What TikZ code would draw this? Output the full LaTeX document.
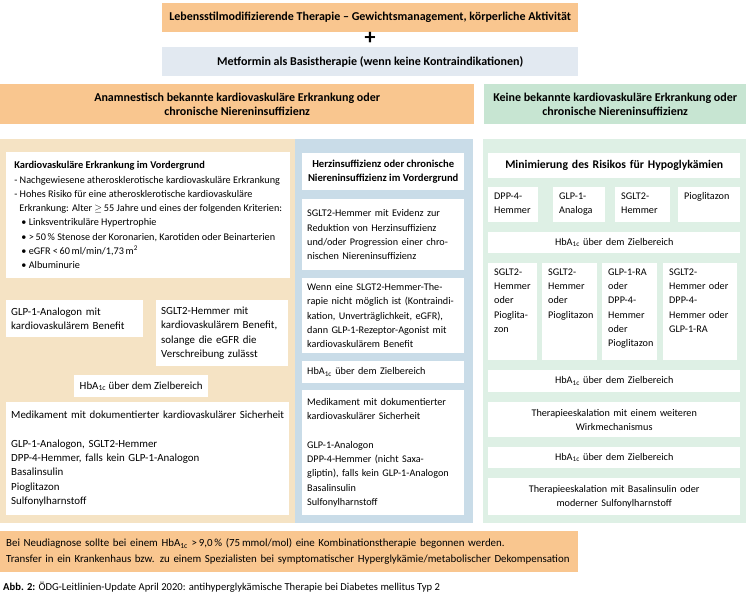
\documentclass[tikz,border=0pt]{standalone}
\usepackage{fontspec}
\setmainfont{Carlito}
\usepackage{tikz}
\usetikzlibrary{positioning}
\definecolor{orangebox}{HTML}{F9C68F}
\definecolor{metfblue}{HTML}{E2E9F1}
\definecolor{greenhead}{HTML}{C7E5D2}
\definecolor{beigepanel}{HTML}{F5E3C4}
\definecolor{bluepanel}{HTML}{C9DCE8}
\definecolor{greenpanel}{HTML}{DEF0E5}
\newcommand{\bodyfont}{\fontsize{10.2}{14.3}\selectfont}
\newcommand{\leftfont}{\fontsize{10.9}{14.3}\selectfont}
\newcommand{\headfont}{\fontsize{12}{14.3}\selectfont\bfseries}
\newcommand{\titlefont}{\fontsize{11.7}{14.3}\selectfont\bfseries}
\newcommand{\hba}{HbA\textsubscript{1c}}

\begin{document}
\begin{tikzpicture}[x=1pt, y=-1pt,
    panel/.style={anchor=north west, inner sep=0pt},
    headbox/.style={anchor=north west, inner sep=0pt, align=center, font=\headfont},
    box/.style={fill=white, anchor=north west, inner xsep=6pt, inner ysep=4pt, align=left, font=\bodyfont},
    lbox/.style={box, inner xsep=5pt, font=\leftfont},
    cbox/.style={box, align=center},
    cell/.style={box, text height=8pt, text depth=#1}]
    \useasboundingbox (0,0) rectangle (746,606);

    % top: lifestyle + metformin
    \node[headbox, fill=orangebox, minimum width=416pt, minimum height=29pt] (life) at (162,3) {Lebensstilmodifizierende Therapie -- Gewichtsmanagement, körperliche Aktivität};
    \node[font=\fontsize{22}{22}\selectfont\bfseries, inner sep=0pt] (plus) at (370,38) {+};
    \node[headbox, fill=metfblue, minimum width=416pt, minimum height=29pt] (metf) at (162,47) {Metformin als Basistherapie (wenn keine Kontraindikationen)};

    \node[headbox, fill=orangebox, minimum width=474pt, minimum height=40pt] (headcv) at (0,84) {Anamnestisch bekannte kardiovaskuläre Erkrankung oder\\chronische Niereninsuffizienz};
    \node[headbox, fill=greenhead, minimum width=262pt, minimum height=40pt] (headno) at (484,84) {Keine bekannte kardiovaskuläre Erkrankung oder\\chronische Niereninsuffizienz};

    % panels
    \node[panel, fill=beigepanel, minimum width=295pt, minimum height=384pt] (pancv) at (0,139) {};
    \node[panel, fill=bluepanel, minimum width=178pt, minimum height=384pt] (panhf) at (295,139) {};
    \node[panel, fill=greenpanel, minimum width=263pt, minimum height=384pt] (panno) at (483,139) {};

    % left column
    \node[box, inner xsep=0pt, minimum width=284pt, minimum height=126pt] (cvtext) at (6,152) {{\fontsize{10.4}{14.3}\selectfont\bfseries Kardiovaskuläre Erkrankung im Vordergrund}\\
      - Nachgewiesene atherosklerotische kardiovaskuläre Erkrankung\\
      - Hohes Risiko für eine atherosklerotische kardiovaskuläre\\
      \hspace*{0.5em}Erkrankung: Alter~$\geq$\,55 Jahre und eines der folgenden Kriterien:\\
      \hspace*{0.7em}\textbullet{} Linksventrikuläre Hypertrophie\\
      \hspace*{0.7em}\textbullet{} >\,50\,\% Stenose der Koronarien, Karotiden oder Beinarterien\\
      \hspace*{0.7em}\textbullet{} eGFR <\,60\,ml/min/1,73\,m\textsuperscript{2}\\
      \hspace*{0.7em}\textbullet{} Albuminurie};
    \node[lbox, text width=127pt, minimum height=37pt] (glpcv) at (6,300) {GLP-1-Analogon mit\\kardiovaskulärem Benefit};
    \node[lbox, text width=122pt, minimum height=66pt] (sgltcv) at (156,300) {SGLT2-Hemmer mit\\kardiovaskulärem Benefit,\\solange die eGFR die\\Verschreibung zulässt};
    \node[lbox, align=center, inner xsep=0pt, minimum width=134pt, minimum height=22pt] (hbacv) at (74,375) {\hba{} über dem Zielbereich};
    \node[lbox, text width=273pt, minimum height=113pt] (medcv) at (6,402) {Medikament mit dokumentierter kardiovaskulärer Sicherheit\\[14.3pt]
      GLP-1-Analogon, SGLT2-Hemmer\\DPP-4-Hemmer, falls kein GLP-1-Analogon\\Basalinsulin\\Pioglitazon\\Sulfonylharnstoff};

    % middle column
    \node[cbox, inner xsep=0pt, minimum width=162pt, minimum height=37pt, font=\fontsize{10.6}{14.3}\selectfont\bfseries] (hftitle) at (302,153) {Herzinsuffizienz oder chronische\\Niereninsuffizienz im Vordergrund};
    \node[box, inner xsep=5pt, text width=152pt, minimum height=71pt] (sglthf) at (302,199) {SGLT2-Hemmer mit Evidenz zur\\Reduktion von Herzinsuffizienz\\und/oder Progression einer chro-\\nischen Niereninsuffizienz};
    \node[box, inner xsep=5pt, text width=152pt, minimum height=75pt] (wennhf) at (302,278) {Wenn eine SLGT2-Hemmer-The-\\rapie nicht möglich ist (Kontraindi-\\kation, Unverträglichkeit, eGFR),\\dann GLP-1-Rezeptor-Agonist mit\\kardiovaskulärem Benefit};
    \node[box, inner xsep=5pt, text width=152pt, minimum height=22pt] (hbahf) at (302,361) {\hba{} über dem Zielbereich};
    \node[box, inner xsep=5pt, text width=152pt, minimum height=125pt] (medhf) at (302,390) {Medikament mit dokumentierter\\kardiovaskulärer Sicherheit\\[14.3pt]
      GLP-1-Analogon\\DPP-4-Hemmer (nicht Saxa-\\gliptin), falls kein GLP-1-Analogon\\Basalinsulin\\Sulfonylharnstoff};

    % right column
    \node[cbox, text width=240pt, minimum height=25pt, font=\titlefont] (hypo) at (488,153) {Minimierung des Risikos für Hypoglykämien};
    \node[cell=19pt, text width=38pt] (dppno) at (488,187) {DPP-4-\\Hemmer};
    \node[cell=19pt, text width=40pt] (glpno) at (553,187) {GLP-1-\\Analoga};
    \node[cell=19pt, text width=43pt] (sgltno) at (615,187) {SGLT2-\\Hemmer};
    \node[cell=19pt, text width=50pt] (piono) at (678,187) {Pioglitazon};
    \node[cbox, text width=240pt, minimum height=21pt] (hbanoa) at (488,232) {\hba{} über dem Zielbereich};
    \node[cell=81pt, text width=37pt] (combia) at (488,263) {SGLT2-\\Hemmer\\oder\\Pioglita-\\zon};
    \node[cell=81pt, text width=43pt] (combib) at (542,263) {SGLT2-\\Hemmer\\oder\\Pioglitazon};
    \node[cell=81pt, text width=43pt] (combic) at (602,263) {GLP-1-RA\\oder\\DPP-4-\\Hemmer\\oder\\Pioglitazon};
    \node[cell=81pt, text width=62pt] (combid) at (663,263) {SGLT2-\\Hemmer oder\\DPP-4-\\Hemmer oder\\GLP-1-RA};
    \node[cbox, text width=240pt, minimum height=22pt] (hbanob) at (488,370) {\hba{} über dem Zielbereich};
    \node[cbox, text width=240pt, minimum height=35pt] (eskno) at (488,402) {Therapieeskalation mit einem weiteren\\Wirkmechanismus};
    \node[cbox, text width=240pt, minimum height=21pt] (hbanoc) at (488,447) {\hba{} über dem Zielbereich};
    \node[cbox, text width=240pt, minimum height=37pt] (basno) at (488,478) {Therapieeskalation mit Basalinsulin oder\\moderner Sulfonylharnstoff};

    % note and caption
    \node[box, fill=orangebox, text width=566pt, minimum height=41pt, font=\fontsize{10.9}{16}\selectfont] (note) at (0,531) {Bei Neudiagnose sollte bei einem \hba{} >\,9,0\,\% (75\,mmol/mol) eine Kombinationstherapie begonnen werden.\\
      Transfer in ein Krankenhaus bzw. zu einem Spezialisten bei symptomatischer Hyperglykämie/metabolischer Dekompensation};
    \node[anchor=west, inner sep=0pt, font=\fontsize{10.6}{13}\selectfont] (caption) at (3,587) {\textbf{Abb. 2:} ÖDG-Leitlinien-Update April 2020: antihyperglykämische Therapie bei Diabetes mellitus Typ 2};
  \end{tikzpicture}
\end{document}
